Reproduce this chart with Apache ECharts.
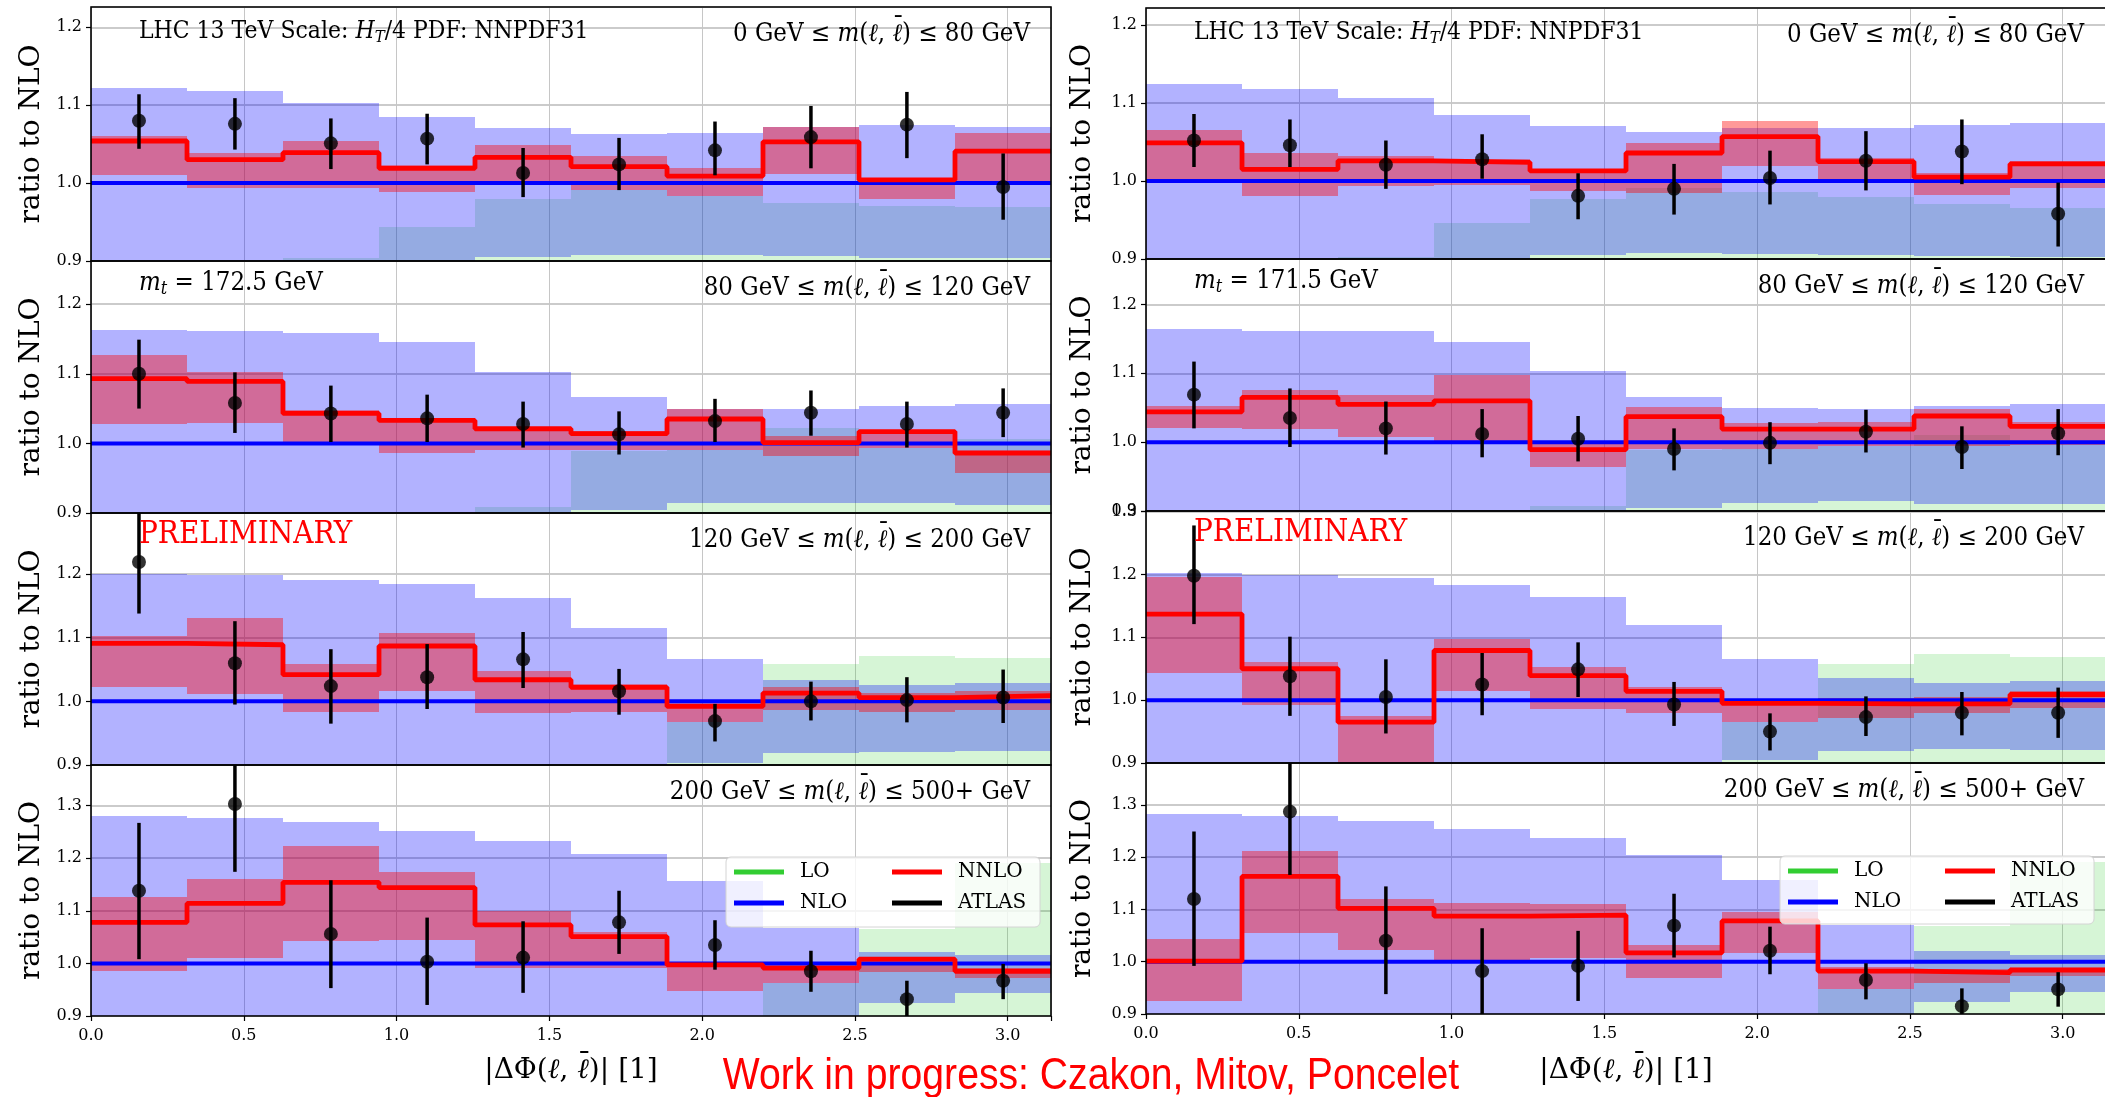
<!DOCTYPE html>
<html><head><meta charset="utf-8">
<script src="https://cdn.jsdelivr.net/npm/echarts@6/dist/echarts.min.js"></script>
<style>html,body{margin:0;padding:0;background:#fff;overflow:hidden}#c{width:2105px;height:1097px}</style>
</head><body><div id="c"></div>
<script>
// ---------- bins ----------
const EDGES = [0, 0.3142, 0.6283, 0.9425, 1.2566, 1.5708, 1.8850, 2.1991, 2.5133, 2.8274, 3.1416];
const CENTERS = [0.157, 0.471, 0.785, 1.100, 1.414, 1.728, 2.042, 2.356, 2.670, 2.985];
const X_MAX = 3.1416;
const X_TICK_LABELS = ['0.0', '0.5', '1.0', '1.5', '2.0', '2.5', '3.0'];
const Y_TICK_LABELS = ['0.9', '1.0', '1.1', '1.2', '1.3'];
const LO_BAND_LOW = [0.85, 0.85, 0.85, 0.85, 0.85, 0.85, 0.85, 0.85, 0.85, 0.85];

// ---------- panel titles ----------
const MASS_RANGES = ['0 GeV', '80 GeV', '120 GeV', '200 GeV', '500+ GeV'];
const TOP_MASS = ['172.5', '171.5'];

// ---------- Left column, 0-80 GeV ----------
const L1_LO_HI   = [0.880, 0.880, 0.904, 0.944, 0.979, 0.991, 0.983, 0.975, 0.971, 0.969];
const L1_NLO_LO  = [0.850, 0.850, 0.850, 0.850, 0.905, 0.908, 0.908, 0.906, 0.904, 0.904];
const L1_NLO_HI  = [1.122, 1.118, 1.103, 1.085, 1.071, 1.063, 1.064, 1.072, 1.075, 1.072];
const L1_NNLO_LO = [1.011, 0.994, 0.994, 0.989, 0.997, 0.991, 0.983, 1.012, 0.979, 1.001];
const L1_NNLO_HI = [1.060, 1.038, 1.054, 1.023, 1.049, 1.035, 1.019, 1.072, 1.007, 1.064];
const L1_NNLO    = [1.054, 1.030, 1.039, 1.019, 1.033, 1.021, 1.009, 1.053, 1.004, 1.041];
const L1_ATLAS    = [1.080, 1.076, 1.051, 1.057, 1.013, 1.024, 1.042, 1.059, 1.075, 0.995];
const L1_ATLAS_HI = [1.114, 1.109, 1.083, 1.089, 1.045, 1.058, 1.079, 1.099, 1.117, 1.038];
const L1_ATLAS_LO = [1.044, 1.043, 1.018, 1.024, 0.982, 0.991, 1.010, 1.019, 1.032, 0.953];

// ---------- Left column, 80-120 GeV ----------
const L2_LO_HI   = [0.880, 0.880, 0.880, 0.880, 0.909, 0.989, 0.990, 1.022, 0.993, 1.006];
const L2_NLO_LO  = [0.850, 0.850, 0.850, 0.850, 0.850, 0.905, 0.915, 0.915, 0.914, 0.912];
const L2_NLO_HI  = [1.163, 1.161, 1.159, 1.145, 1.102, 1.067, 1.049, 1.049, 1.053, 1.056];
const L2_NNLO_LO = [1.028, 1.030, 1.000, 0.986, 0.990, 0.990, 0.990, 0.982, 0.994, 0.957];
const L2_NNLO_HI = [1.127, 1.102, 1.048, 1.037, 1.023, 1.018, 1.050, 1.010, 1.019, 0.990];
const L2_NNLO    = [1.093, 1.089, 1.043, 1.033, 1.021, 1.014, 1.035, 1.001, 1.017, 0.986];
const L2_ATLAS    = [1.100, 1.058, 1.043, 1.036, 1.028, 1.013, 1.032, 1.044, 1.028, 1.044];
const L2_ATLAS_HI = [1.149, 1.102, 1.083, 1.070, 1.060, 1.046, 1.064, 1.076, 1.060, 1.079];
const L2_ATLAS_LO = [1.050, 1.015, 1.002, 1.002, 0.994, 0.984, 1.002, 1.011, 0.994, 1.009];

// ---------- Left column, 120-200 GeV ----------
const L3_LO_HI   = [0.880, 0.880, 0.880, 0.880, 0.880, 0.880, 0.967, 1.059, 1.071, 1.068];
const L3_NLO_LO  = [0.850, 0.850, 0.850, 0.850, 0.850, 0.850, 0.903, 0.919, 0.920, 0.922];
const L3_NLO_HI  = [1.200, 1.198, 1.191, 1.184, 1.163, 1.116, 1.066, 1.033, 1.026, 1.029];
const L3_NNLO_LO = [1.023, 1.012, 0.984, 1.017, 0.981, 0.983, 0.967, 0.987, 0.983, 0.987];
const L3_NNLO_HI = [1.103, 1.131, 1.058, 1.107, 1.048, 1.027, 0.997, 1.022, 1.013, 1.016];
const L3_NNLO    = [1.091, 1.089, 1.042, 1.087, 1.034, 1.022, 0.992, 1.013, 1.006, 1.009];
const L3_ATLAS    = [1.219, 1.060, 1.024, 1.038, 1.066, 1.016, 0.969, 1.000, 1.002, 1.006];
const L3_ATLAS_HI = [1.310, 1.126, 1.082, 1.090, 1.109, 1.051, 0.996, 1.031, 1.038, 1.050];
const L3_ATLAS_LO = [1.138, 0.995, 0.965, 0.988, 1.021, 0.979, 0.937, 0.970, 0.967, 0.966];

// ---------- Left column, 200-500+ GeV ----------
const L4_LO_HI   = [0.850, 0.850, 0.850, 0.850, 0.850, 0.850, 0.850, 0.962, 1.066, 1.190];
const L4_NLO_LO  = [0.800, 0.800, 0.800, 0.800, 0.800, 0.800, 0.800, 0.800, 0.925, 0.944];
const L4_NLO_HI  = [1.280, 1.276, 1.269, 1.251, 1.233, 1.207, 1.156, 1.068, 1.022, 1.015];
const L4_NNLO_LO = [0.986, 1.010, 1.043, 1.045, 0.992, 0.992, 0.948, 0.962, 0.983, 0.973];
const L4_NNLO_HI = [1.126, 1.161, 1.223, 1.174, 1.099, 1.059, 1.000, 1.000, 1.012, 0.992];
const L4_NNLO    = [1.078, 1.114, 1.154, 1.144, 1.073, 1.051, 0.997, 0.991, 1.008, 0.985];
const L4_ATLAS    = [1.138, 1.303, 1.056, 1.003, 1.011, 1.078, 1.035, 0.985, 0.932, 0.967];
const L4_ATLAS_HI = [1.267, 1.450, 1.158, 1.087, 1.080, 1.138, 1.082, 1.024, 0.967, 0.999];
const L4_ATLAS_LO = [1.008, 1.174, 0.953, 0.921, 0.944, 1.018, 0.988, 0.946, 0.895, 0.932];

// ---------- Right column, 0-80 GeV ----------
const R1_LO_HI   = [0.880, 0.880, 0.902, 0.946, 0.977, 0.991, 0.986, 0.979, 0.971, 0.966];
const R1_NLO_LO  = [0.850, 0.850, 0.850, 0.850, 0.905, 0.908, 0.907, 0.905, 0.904, 0.903];
const R1_NLO_HI  = [1.124, 1.118, 1.106, 1.085, 1.071, 1.063, 1.068, 1.068, 1.072, 1.074];
const R1_NNLO_LO = [1.003, 0.981, 0.994, 0.995, 0.987, 0.985, 1.019, 0.997, 0.982, 0.991];
const R1_NNLO_HI = [1.065, 1.036, 1.032, 1.028, 1.016, 1.049, 1.077, 1.029, 1.010, 1.026];
const R1_NNLO    = [1.049, 1.015, 1.026, 1.024, 1.013, 1.036, 1.057, 1.025, 1.005, 1.022];
const R1_ATLAS    = [1.052, 1.046, 1.021, 1.028, 0.981, 0.990, 1.004, 1.026, 1.038, 0.958];
const R1_ATLAS_HI = [1.086, 1.079, 1.052, 1.060, 1.010, 1.022, 1.039, 1.064, 1.079, 0.998];
const R1_ATLAS_LO = [1.018, 1.018, 0.990, 1.003, 0.951, 0.957, 0.970, 0.988, 0.996, 0.916];

// ---------- Right column, 80-120 GeV ----------
const R2_LO_HI   = [0.880, 0.880, 0.880, 0.880, 0.907, 0.988, 0.990, 0.994, 1.011, 0.998];
const R2_NLO_LO  = [0.850, 0.850, 0.850, 0.850, 0.850, 0.905, 0.912, 0.914, 0.910, 0.910];
const R2_NLO_HI  = [1.164, 1.161, 1.161, 1.145, 1.103, 1.065, 1.050, 1.048, 1.053, 1.056];
const R2_NNLO_LO = [1.020, 1.019, 1.007, 1.002, 0.964, 0.990, 0.990, 0.994, 0.995, 0.996];
const R2_NNLO_HI = [1.053, 1.076, 1.068, 1.098, 0.998, 1.051, 1.028, 1.029, 1.048, 1.029];
const R2_NNLO    = [1.044, 1.065, 1.055, 1.060, 0.989, 1.037, 1.019, 1.019, 1.038, 1.023];
const R2_ATLAS    = [1.069, 1.035, 1.020, 1.012, 1.005, 0.990, 0.999, 1.015, 0.993, 1.013];
const R2_ATLAS_HI = [1.117, 1.078, 1.059, 1.048, 1.038, 1.020, 1.029, 1.047, 1.023, 1.048];
const R2_ATLAS_LO = [1.020, 0.993, 0.982, 0.978, 0.972, 0.959, 0.968, 0.985, 0.961, 0.981];

// ---------- Right column, 120-200 GeV ----------
const R3_LO_HI   = [0.880, 0.880, 0.880, 0.880, 0.880, 0.880, 0.965, 1.057, 1.074, 1.069];
const R3_NLO_LO  = [0.850, 0.850, 0.850, 0.850, 0.850, 0.850, 0.904, 0.919, 0.923, 0.921];
const R3_NLO_HI  = [1.202, 1.199, 1.195, 1.183, 1.164, 1.119, 1.065, 1.035, 1.027, 1.030];
const R3_NNLO_LO = [1.044, 0.993, 0.850, 1.014, 0.986, 0.980, 0.965, 0.972, 0.980, 0.988];
const R3_NNLO_HI = [1.196, 1.061, 0.975, 1.098, 1.053, 1.021, 1.000, 1.003, 1.005, 1.014];
const R3_NNLO    = [1.137, 1.050, 0.965, 1.079, 1.039, 1.014, 0.995, 0.994, 0.994, 1.009];
const R3_ATLAS    = [1.198, 1.038, 1.005, 1.025, 1.049, 0.993, 0.950, 0.973, 0.980, 0.980];
const R3_ATLAS_HI = [1.278, 1.101, 1.065, 1.075, 1.092, 1.029, 0.979, 1.006, 1.013, 1.020];
const R3_ATLAS_LO = [1.121, 0.975, 0.947, 0.976, 1.005, 0.959, 0.920, 0.943, 0.944, 0.940];

// ---------- Right column, 200-500+ GeV ----------
const R4_LO_HI   = [0.850, 0.850, 0.850, 0.850, 0.850, 0.850, 0.850, 0.947, 1.068, 1.191];
const R4_NLO_LO  = [0.800, 0.800, 0.800, 0.800, 0.800, 0.800, 0.800, 0.800, 0.922, 0.943];
const R4_NLO_HI  = [1.283, 1.278, 1.270, 1.254, 1.236, 1.205, 1.157, 1.070, 1.021, 1.013];
const R4_NNLO_LO = [0.925, 1.054, 1.022, 1.003, 1.008, 0.968, 1.016, 0.947, 0.960, 0.973];
const R4_NNLO_HI = [1.043, 1.211, 1.119, 1.113, 1.110, 1.032, 1.096, 0.990, 0.987, 0.989];
const R4_NNLO    = [1.001, 1.163, 1.102, 1.087, 1.089, 1.017, 1.078, 0.982, 0.979, 0.984];
const R4_ATLAS    = [1.120, 1.287, 1.040, 0.982, 0.992, 1.069, 1.021, 0.965, 0.915, 0.947];
const R4_ATLAS_HI = [1.249, 1.450, 1.144, 1.064, 1.059, 1.130, 1.067, 0.997, 0.949, 0.980];
const R4_ATLAS_LO = [0.992, 1.166, 0.938, 0.890, 0.925, 1.008, 0.976, 0.928, 0.895, 0.914];

// ---------- layout ----------
const GRID_LEFT = [91, 1146];
const GRID_W = 960;
const ROW_TOP = [[7, 261, 513, 765], [8, 259, 511, 763]];
const ROW_H = [[254, 252, 252, 251], [251, 252, 252, 251]];
const Y_MAX = [[1.226, 1.262, 1.296, 1.377], [1.222, 1.266, 1.301, 1.380]];

const C_LO = 'rgba(50,205,50,0.2)', C_NLO = 'rgba(0,0,255,0.3)', C_NNLO = 'rgba(255,0,0,0.4)';
const SERIF = '"DejaVu Serif", "Liberation Serif", serif';

const PANELS = [
  [L1_LO_HI, L1_NLO_LO, L1_NLO_HI, L1_NNLO_LO, L1_NNLO_HI, L1_NNLO, L1_ATLAS, L1_ATLAS_LO, L1_ATLAS_HI],
  [L2_LO_HI, L2_NLO_LO, L2_NLO_HI, L2_NNLO_LO, L2_NNLO_HI, L2_NNLO, L2_ATLAS, L2_ATLAS_LO, L2_ATLAS_HI],
  [L3_LO_HI, L3_NLO_LO, L3_NLO_HI, L3_NNLO_LO, L3_NNLO_HI, L3_NNLO, L3_ATLAS, L3_ATLAS_LO, L3_ATLAS_HI],
  [L4_LO_HI, L4_NLO_LO, L4_NLO_HI, L4_NNLO_LO, L4_NNLO_HI, L4_NNLO, L4_ATLAS, L4_ATLAS_LO, L4_ATLAS_HI],
  [R1_LO_HI, R1_NLO_LO, R1_NLO_HI, R1_NNLO_LO, R1_NNLO_HI, R1_NNLO, R1_ATLAS, R1_ATLAS_LO, R1_ATLAS_HI],
  [R2_LO_HI, R2_NLO_LO, R2_NLO_HI, R2_NNLO_LO, R2_NNLO_HI, R2_NNLO, R2_ATLAS, R2_ATLAS_LO, R2_ATLAS_HI],
  [R3_LO_HI, R3_NLO_LO, R3_NLO_HI, R3_NNLO_LO, R3_NNLO_HI, R3_NNLO, R3_ATLAS, R3_ATLAS_LO, R3_ATLAS_HI],
  [R4_LO_HI, R4_NLO_LO, R4_NLO_HI, R4_NNLO_LO, R4_NNLO_HI, R4_NNLO, R4_ATLAS, R4_ATLAS_LO, R4_ATLAS_HI]
];

function bandSeries(name, k, lo, hi, color, z) {
  return {
    type: 'custom', name, xAxisIndex: k, yAxisIndex: k, z, silent: true,
    itemStyle: { color },
    data: lo.map((l, i) => [EDGES[i], EDGES[i + 1], l, hi[i]]),
    encode: { x: [0, 1], y: [2, 3] },
    renderItem: (params, api) => {
      const a = api.coord([api.value(0), api.value(3)]);
      const b = api.coord([api.value(1), api.value(2)]);
      const cs = params.coordSys;
      const x0 = Math.round(Math.max(a[0], cs.x)), x1 = Math.round(Math.min(b[0], cs.x + cs.width));
      const y0 = Math.round(Math.max(a[1], cs.y)), y1 = Math.round(Math.min(b[1], cs.y + cs.height));
      if (x1 <= x0 || y1 <= y0) return null;
      return { type: 'rect', shape: { x: x0, y: y0, width: x1 - x0, height: y1 - y0 }, style: { fill: color } };
    }
  };
}

const grids = [], xAxes = [], yAxes = [], series = [];
PANELS.forEach((p, k) => {
  const col = k < 4 ? 0 : 1, row = k % 4;
  const bottom = row === 3;
  grids.push({ left: GRID_LEFT[col], top: ROW_TOP[col][row], width: GRID_W, height: ROW_H[col][row],
    show: true, borderColor: '#000', borderWidth: 1.6, backgroundColor: 'transparent', z: 10, outerBoundsMode: 'none' });
  xAxes.push({ type: 'value', gridIndex: k, min: 0, max: X_MAX, interval: 0.5,
    axisLine: { show: false },
    axisTick: { show: bottom, length: 5, lineStyle: { color: '#000', width: 1.2 } },
    axisLabel: { show: bottom, margin: 12, color: '#000', fontFamily: SERIF, fontSize: 16,
      formatter: v => { const j = Math.round(v * 2); return Math.abs(v * 2 - j) < 1e-6 && X_TICK_LABELS[j] ? X_TICK_LABELS[j] : ''; } },
    splitLine: { show: true, lineStyle: { color: '#c6c6c6', width: 1 } } });
  yAxes.push({ type: 'value', gridIndex: k, min: 0.9, max: Y_MAX[col][row], interval: 0.1,
    axisLine: { show: false },
    axisTick: { show: true, length: 5, lineStyle: { color: '#000', width: 1.2 } },
    axisLabel: { margin: 9, color: '#000', fontFamily: SERIF, fontSize: 16, showMaxLabel: false,
      formatter: v => { const j = Math.round(v * 10) - 9; return Math.abs(v * 10 - j - 9) < 1e-6 && Y_TICK_LABELS[j] ? Y_TICK_LABELS[j] : ''; } },
    splitLine: { show: true, lineStyle: { color: '#bababa', width: 1.5 } } });

  const [loHi, nloLo, nloHi, nnloLo, nnloHi, nnlo, aY, aLo, aHi] = p;
  series.push(bandSeries('LO', k, LO_BAND_LOW, loHi, C_LO, 1));
  series.push(bandSeries('NLO', k, nloLo, nloHi, C_NLO, 2));
  series.push(bandSeries('NNLO', k, nnloLo, nnloHi, C_NNLO, 3));
  series.push({ type: 'line', name: 'NLO', xAxisIndex: k, yAxisIndex: k, z: 4, silent: true,
    data: [[0, 1], [X_MAX, 1]], symbol: 'none', lineStyle: { color: '#0000ff', width: 4 }, itemStyle: { color: '#0000ff' } });
  series.push({ type: 'line', name: 'NNLO', xAxisIndex: k, yAxisIndex: k, z: 5, silent: true, step: 'end',
    data: nnlo.map((v, i) => [EDGES[i], v]).concat([[EDGES[10], nnlo[9]]]),
    symbol: 'none', lineStyle: { color: '#ff0000', width: 4.8 }, itemStyle: { color: '#ff0000' } });
  series.push({ type: 'custom', name: 'ATLAS', xAxisIndex: k, yAxisIndex: k, z: 6, silent: true,
    data: aY.map((v, i) => [CENTERS[i], aLo[i], aHi[i]]),
    encode: { x: 0, y: [1, 2] },
    renderItem: (params, api) => {
      const cs = params.coordSys;
      const pl = api.coord([api.value(0), api.value(1)]);
      const ph = api.coord([api.value(0), api.value(2)]);
      const yb = Math.min(pl[1], cs.y + cs.height), yt = Math.max(ph[1], cs.y);
      return { type: 'line', shape: { x1: pl[0], y1: yb, x2: pl[0], y2: yt }, style: { stroke: '#000', lineWidth: 3.5 } };
    } });
  series.push({ type: 'scatter', name: 'ATLAS', xAxisIndex: k, yAxisIndex: k, z: 7, silent: true,
    data: aY.map((v, i) => [CENTERS[i], v]), symbol: 'circle', symbolSize: 14, itemStyle: { color: '#000' } });
});

// ---------- text ----------
const graphics = [];
function richSet(fs) {
  return {
    i: { fontFamily: SERIF, fontSize: fs, fontStyle: 'italic', color: '#000', align: 'left' },
    s: { fontFamily: SERIF, fontSize: Math.round(fs * 0.7), fontStyle: 'italic', color: '#000', align: 'left', padding: [Math.round(fs * 0.5), 0, 0, 0] },
    n: { fontFamily: SERIF, fontSize: fs, color: '#000', align: 'left' },
    b: { fontFamily: SERIF, fontSize: fs, color: '#000', width: 0, align: 'left', padding: [0, 0, Math.round(fs * 0.42), 0] }
  };
}
const RICH23 = richSet(23), RICH22 = richSet(22), RICH28 = richSet(28);
function txt(x, y, text, opt) {
  graphics.push(Object.assign({ type: 'text', x, y, z: 40, silent: true, scaleY: 1.1,
    style: Object.assign({ text, font: '23px ' + SERIF, fill: '#000', align: 'left', verticalAlign: 'middle', rich: RICH23 }, opt && opt.style || {}) },
    opt && opt.el || {}));
}
for (let col = 0; col < 2; col++) {
  const gl = GRID_LEFT[col], gr = GRID_LEFT[col] + GRID_W;
  const rightX = gr - 21 - (col === 1 ? 1 : 0);
  for (let row = 0; row < 4; row++) {
    const top = ROW_TOP[col][row], h = ROW_H[col][row];
    const rng = '{n|' + MASS_RANGES[row] + ' ≤ }{i|m}{n|(}{i|ℓ}{n|, }{b|\u00AF}{i|ℓ}{n|) ≤ ' + MASS_RANGES[row + 1] + '}';
    txt(rightX, top + 27, rng, { style: { align: 'right' } });
    // y label
    txt(32 + col * 1051, top + h / 2, 'ratio to NLO', { style: { align: 'center', font: '28px ' + SERIF }, el: { rotation: Math.PI / 2, scaleY: 1 } });
  }
  txt(gl + 48, ROW_TOP[col][0] + 25, '{n|LHC 13 TeV Scale: }{i|H}{s|T}{n|/4 PDF: NNPDF31}', { style: { rich: RICH22 } });
  txt(gl + 48, ROW_TOP[col][1] + 22, '{i|m}{s|t}{n| = ' + TOP_MASS[col] + ' GeV}');
  txt(gl + 48, ROW_TOP[col][2] + 22, 'PRELIMINARY', { style: { font: '28px ' + SERIF, fill: '#ff0000' } });
  // x axis title
  txt(gl + GRID_W / 2, 1071, '{n|\u007CΔΦ(}{i|ℓ}{n|, }{b|\u00AF}{i|ℓ}{n|)\u007C [1]}', { style: { align: 'center', rich: RICH28 }, el: { scaleY: 1 } });
}
// legend frames
graphics.push({ type: 'rect', z: 50, silent: true, shape: { x: 726, y: 857, width: 314, height: 70, r: 5 },
  style: { fill: 'rgba(255,255,255,0.8)', stroke: '#d4d4d4', lineWidth: 1 } });
graphics.push({ type: 'rect', z: 50, silent: true, shape: { x: 1780, y: 856, width: 314, height: 68, r: 5 },
  style: { fill: 'rgba(255,255,255,0.8)', stroke: '#d4d4d4', lineWidth: 1 } });
// footer
graphics.push({ type: 'text', x: 1091, y: 1077, z: 40, silent: true, scaleX: 0.89,
  style: { text: 'Work in progress: Czakon, Mitov, Poncelet', font: '44px "Liberation Sans", Arial, sans-serif', fill: '#ff0000', align: 'center', verticalAlign: 'middle' } });

function legend(left, top, names, colors) {
  return { z: 100, left, top, orient: 'vertical', padding: 0, itemGap: 7, itemWidth: 50, itemHeight: 5, icon: 'rect',
    selectedMode: false,
    textStyle: { fontFamily: SERIF, fontSize: 20, color: '#000', lineHeight: 24, padding: [0, 0, 0, 11] },
    data: names.map((n, i) => ({ name: n, icon: 'rect', itemStyle: { color: colors[i], borderWidth: 0 } })) };
}
const legends = [
  legend(734, 860, ['LO', 'NLO'], ['#32cd32', '#0000ff']),
  legend(892, 860, ['NNLO', 'ATLAS'], ['#ff0000', '#000000']),
  legend(1788, 859, ['LO', 'NLO'], ['#32cd32', '#0000ff']),
  legend(1945, 859, ['NNLO', 'ATLAS'], ['#ff0000', '#000000'])
];

const chart = echarts.init(document.getElementById('c'), null, { renderer: 'canvas' });
chart.setOption({
  animation: false,
  backgroundColor: '#ffffff',
  grid: grids, xAxis: xAxes, yAxis: yAxes, series,
  legend: legends,
  graphic: { elements: graphics }
});
</script></body></html>
